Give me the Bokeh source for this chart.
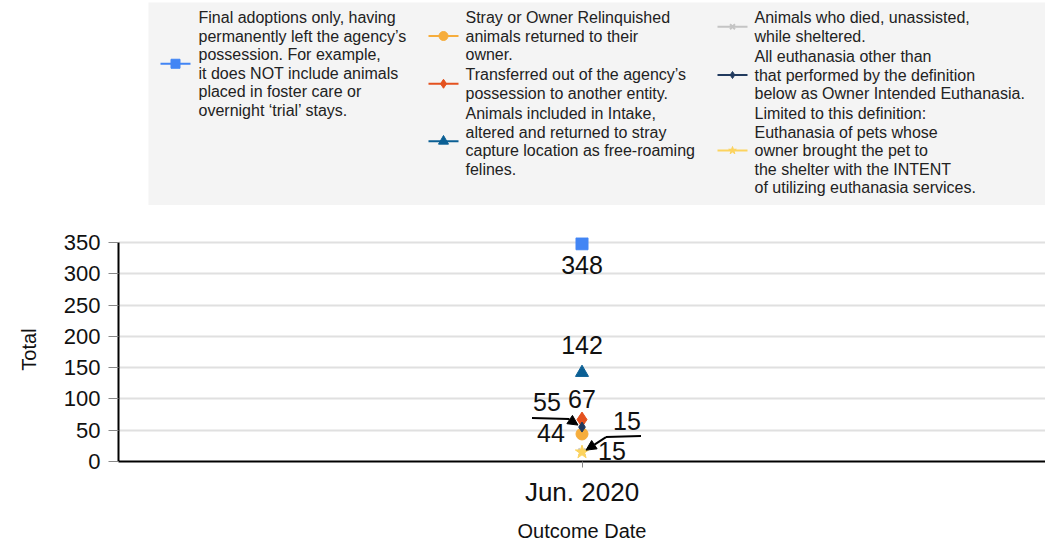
from bokeh.plotting import figure
from bokeh.models import Range1d, FixedTicker, Arrow, NormalHead
from bokeh.layouts import column
from bokeh.embed import file_html
from bokeh.resources import INLINE
from bokeh.core.properties import value

FONT = "Liberation Sans"

# ---------------- data ----------------
categories = ["Jun. 2020"]
series_names = ["Adoption", "Return to Owner", "Transfer", "Return to Field",
                "Died in Care", "Euthanasia", "Owner Intended Euthanasia"]
series_values = [348, 44, 67, 142, 15, 55, 15]
series_colors = ["#4285f4", "#f6ad3c", "#e4511e", "#0b5f94",
                 "#c4c4c4", "#213a5e", "#fcd35e"]
series_markers = ["square", "circle", "diamond", "triangle", "x", "diamond", "star"]
legend_texts = [
    "Final adoptions only, having\npermanently left the agency\u2019s\npossession. For example,\nit does NOT include animals\nplaced in foster care or\novernight \u2018trial\u2019 stays.",
    "Stray or Owner Relinquished\nanimals returned to their\nowner.",
    "Transferred out of the agency\u2019s\npossession to another entity.",
    "Animals included in Intake,\naltered and returned to stray\ncapture location as free-roaming\nfelines.",
    "Animals who died, unassisted,\nwhile sheltered.",
    "All euthanasia other than\nthat performed by the definition\nbelow as Owner Intended Euthanasia.",
    "Limited to this definition:\nEuthanasia of pets whose\nowner brought the pet to\nthe shelter with the INTENT\nof utilizing euthanasia services.",
]
y_ticks = [0, 50, 100, 150, 200, 250, 300, 350]

# ---------------- layout / style ----------------
W = 1045
LEG_H = 205
MAIN_H = 339
BORDER_L, BORDER_T, BORDER_B = 118, 32, 83
frame_w = W - BORDER_L
frame_h = MAIN_H - BORDER_T - BORDER_B
px_per_unit_y = (frame_h - 5) / 350.0
y_end = frame_h / px_per_unit_y
px_per_unit_x = float(frame_w)

marker_sizes = [12, 12, 15, 13, 10, 10, 14]
legend_marker_sizes = [9, 9, 9, 10, 7, 7, 8]
# label offsets in pixels (dx right, dy down) relative to point
label_offsets = [(0, 21), (-31, -1), (0, -21), (0, -28), (45, -31), (-35, -25), (30, -1)]
leaders = {4: [(59, -16), (24, -15), (4, -2)], 5: [(-50, -9), (-13, -8), (-4, -2)]}

# ---------------- legend figure ----------------
lg = figure(width=W, height=LEG_H, x_range=Range1d(BORDER_L, W), y_range=Range1d(LEG_H, 0),
            output_backend="svg", toolbar_location=None,
            min_border_left=BORDER_L, min_border_right=0, min_border_top=0, min_border_bottom=0,
            x_axis_type=None, y_axis_type=None, outline_line_color=None)
lg.xgrid.visible = False
lg.ygrid.visible = False
lg.quad(left=148, right=W, top=2, bottom=LEG_H, fill_color="#f4f4f4", line_color=None)

col_marker_x = [175, 443, 732]
col_text_x = [198, 465, 754]
entry_col = [0, 1, 1, 1, 2, 2, 2]
entry_top = [17, 17, 74, 113, 17, 56, 113]
line_h = 18.5
for i, txt in enumerate(legend_texts):
    lines = txt.split("\n")
    c = entry_col[i]
    top = entry_top[i]
    my = top + (len(lines) - 1) * line_h / 2
    mx = col_marker_x[c]
    lg.line(x=[mx - 15, mx + 15], y=[my, my], line_color=series_colors[i], line_width=2)
    lg.scatter(x=[mx], y=[my], marker=series_markers[i], size=legend_marker_sizes[i],
               fill_color=series_colors[i], line_color=series_colors[i],
               line_width=2 if series_markers[i] == "x" else 1)
    lg.text(x=[col_text_x[c]] * len(lines), y=[top + k * line_h for k in range(len(lines))],
            text=lines, text_align="left", text_baseline="middle",
            text_font=value(FONT), text_font_size="16px", text_color="#222222")

# ---------------- main figure ----------------
p = figure(width=W, height=MAIN_H, x_range=Range1d(-0.5, 0.5), y_range=Range1d(0, y_end),
           output_backend="svg", toolbar_location=None,
           min_border_left=BORDER_L, min_border_right=0,
           min_border_top=BORDER_T, min_border_bottom=BORDER_B,
           outline_line_color=None)

xpos = [categories.index("Jun. 2020")]

p.xgrid.visible = False
p.ygrid.ticker = FixedTicker(ticks=y_ticks)
p.ygrid.grid_line_color = "#e0e0e0"
p.ygrid.grid_line_width = 2

p.yaxis.ticker = FixedTicker(ticks=y_ticks)
p.yaxis.bounds = (0, 350)
p.yaxis.axis_line_color = "black"
p.yaxis.axis_line_width = 2
p.yaxis.major_tick_line_color = "#888888"
p.yaxis.major_tick_in = 0
p.yaxis.major_tick_out = 10
p.yaxis.minor_tick_line_color = None
p.yaxis.major_label_standoff = 8
p.yaxis.major_label_text_font = FONT
p.yaxis.major_label_text_font_size = "22px"
p.yaxis.major_label_text_color = "#111111"
p.yaxis.axis_label = "Total"
p.yaxis.axis_label_text_font = FONT
p.yaxis.axis_label_text_font_size = "20px"
p.yaxis.axis_label_text_font_style = "normal"
p.yaxis.axis_label_text_color = "#111111"
p.yaxis.axis_label_standoff = 21

p.xaxis.ticker = FixedTicker(ticks=xpos)
p.xaxis.major_label_overrides = {xpos[0]: categories[0]}
p.xaxis.axis_line_color = "black"
p.xaxis.axis_line_width = 2
p.xaxis.major_tick_line_color = "#888888"
p.xaxis.major_tick_in = 0
p.xaxis.major_tick_out = 6
p.xaxis.minor_tick_line_color = None
p.xaxis.major_label_standoff = 9
p.xaxis.major_label_text_font = FONT
p.xaxis.major_label_text_font_size = "26px"
p.xaxis.major_label_text_color = "#111111"
p.xaxis.axis_label = "Outcome Date"
p.xaxis.axis_label_text_font = FONT
p.xaxis.axis_label_text_font_size = "20px"
p.xaxis.axis_label_text_font_style = "normal"
p.xaxis.axis_label_text_color = "#111111"
p.xaxis.axis_label_standoff = 10

for i, v in enumerate(series_values):
    p.scatter(x=xpos, y=[v], marker=series_markers[i], size=marker_sizes[i],
              fill_color=series_colors[i], line_color=series_colors[i],
              line_width=2 if series_markers[i] == "x" else 1)

for i, v in enumerate(series_values):
    dx, dy = label_offsets[i]
    lx = xpos[0] + dx / px_per_unit_x
    ly = v - dy / px_per_unit_y
    p.text(x=[lx], y=[ly], text=[str(v)], text_align="center", text_baseline="middle",
           text_font=value(FONT), text_font_size="25px", text_color="#111111")
    if i in leaders:
        pts = [(xpos[0] + a / px_per_unit_x, v - b / px_per_unit_y) for a, b in leaders[i]]
        p.line(x=[pts[0][0], pts[1][0]], y=[pts[0][1], pts[1][1]], line_color="black", line_width=2)
        p.add_layout(Arrow(end=NormalHead(size=10, fill_color="black", line_color="black"),
                           x_start=pts[1][0], y_start=pts[1][1], x_end=pts[2][0], y_end=pts[2][1],
                           line_color="black", line_width=2))

layout = column(lg, p, spacing=0)
open("out.html", "w").write(file_html(layout, INLINE))
